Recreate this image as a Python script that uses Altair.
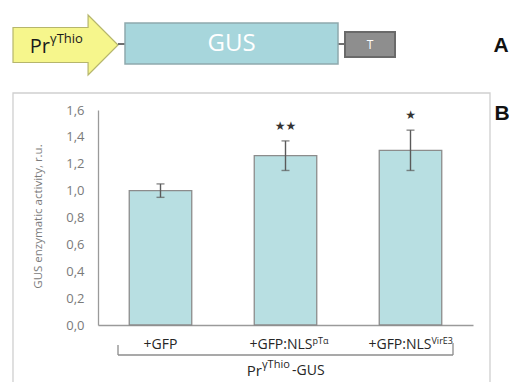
import altair as alt
import pandas as pd

# ---- data ----
cats = ["+GFP", "+GFP:NLS pTα", "+GFP:NLS VirE3"]
means = [1.00, 1.26, 1.30]
errs = [0.05, 0.11, 0.15]
stars = ["", "★★", "★"]
y_ticks = [0.0, 0.2, 0.4, 0.6, 0.8, 1.0, 1.2, 1.4, 1.6]

df = pd.DataFrame({"cat": cats, "mean": means, "err": errs, "star": stars})
df["lo"] = df["mean"] - df["err"]
df["hi"] = df["mean"] + df["err"]

FONT = "Open Sans"
one = pd.DataFrame({"d": [0]})

xscale = alt.Scale(domain=cats, paddingInner=0.5, paddingOuter=0.25)
xaxis = alt.Axis(title=None, labels=False, ticks=False, domainColor="#9a9a9a", domainWidth=1.3)
yscale = alt.Scale(domain=[0, 1.6], nice=False, zero=True)
yaxis = alt.Axis(values=y_ticks, grid=False, ticks=False, domainColor="#9a9a9a",
                 domainWidth=1.3, labelOverlap=False,
                 labelExpr="replace(format(datum.value, '.1f'), '.', ',')",
                 labelColor="#7a7a7a", labelFont=FONT, labelFontSize=13, labelPadding=14,
                 title="GUS enzymatic activity, r.u.", titleFont=FONT, titleFontSize=11.5,
                 titleFontWeight="normal", titleColor="#7a7a7a",
                 titleX=-60, titleY=106, titleAngle=270, titleAlign="center",
                 titleBaseline="middle")


def X():
    return alt.X("cat:N", scale=xscale, axis=xaxis)


def Y(f):
    return alt.Y(f"{f}:Q", scale=yscale, axis=yaxis, title="GUS enzymatic activity, r.u.")


base = alt.Chart(df)

bars = base.mark_bar(fill="#b8dfe2", stroke="#8c8c8c", strokeWidth=1.3).encode(x=X(), y=Y("mean"))
rules = base.mark_rule(color="#5a5a5a", strokeWidth=1.4).encode(x=X(), y=Y("lo"), y2="hi:Q")
caps_lo = base.mark_tick(color="#5a5a5a", size=8, thickness=1.4).encode(x=X(), y=Y("lo"))
caps_hi = base.mark_tick(color="#5a5a5a", size=8, thickness=1.4).encode(x=X(), y=Y("hi"))
star_txt = base.mark_text(fontSize=12, color="#333333", dy=-15, font="DejaVu Sans").encode(
    x=X(), y=Y("hi"), text="star:N")

# x labels with superscripts
lab_y = 235
LS = 14
SS = 9
lab1 = alt.Chart(df).transform_filter(alt.datum.cat == cats[0]).mark_text(
    font=FONT, fontSize=LS, color="#262626").encode(
    x=X(), y=alt.value(lab_y), text=alt.value("+GFP"))
lab2 = alt.Chart(df).transform_filter(alt.datum.cat == cats[1]).mark_text(
    font=FONT, fontSize=LS, color="#262626", align="right", dx=27).encode(
    x=X(), y=alt.value(lab_y), text=alt.value("+GFP:NLS"))
lab2s = alt.Chart(df).transform_filter(alt.datum.cat == cats[1]).mark_text(
    font=FONT, fontSize=SS, color="#262626", align="left", dx=27, dy=-4).encode(
    x=X(), y=alt.value(lab_y), text=alt.value("pTα"))
lab3 = alt.Chart(df).transform_filter(alt.datum.cat == cats[2]).mark_text(
    font=FONT, fontSize=LS, color="#262626", align="right", dx=21).encode(
    x=X(), y=alt.value(lab_y), text=alt.value("+GFP:NLS"))
lab3s = alt.Chart(df).transform_filter(alt.datum.cat == cats[2]).mark_text(
    font=FONT, fontSize=SS, color="#262626", align="left", dx=21, dy=-4).encode(
    x=X(), y=alt.value(lab_y), text=alt.value("VirE3"))

# bracket
d1 = alt.Chart(one)
br_h = d1.mark_rule(color="#8c8c8c", strokeWidth=1.3).encode(
    x=alt.value(20), x2=alt.value(355), y=alt.value(245))
br_l = d1.mark_rule(color="#8c8c8c", strokeWidth=1.3).encode(
    x=alt.value(20), y=alt.value(235), y2=alt.value(245))
br_r = d1.mark_rule(color="#8c8c8c", strokeWidth=1.3).encode(
    x=alt.value(355), y=alt.value(233), y2=alt.value(245))
bt_pr = d1.mark_text(font=FONT, fontSize=15, color="#262626", align="right").encode(
    x=alt.value(164), y=alt.value(261), text=alt.value("Pr"))
bt_sup = d1.mark_text(font=FONT, fontSize=11, color="#262626", align="left").encode(
    x=alt.value(164), y=alt.value(255), text=alt.value("γThio"))
bt_gus = d1.mark_text(font=FONT, fontSize=14, color="#262626", align="left").encode(
    x=alt.value(194), y=alt.value(261), text=alt.value("-GUS"))

# panel border
border = d1.mark_rect(fill=None, stroke="#cfcfcf", strokeWidth=1.3).encode(
    x=alt.value(-85), x2=alt.value(392), y=alt.value(-17), y2=alt.value(320))

# top diagram
arrow_path = "M -1 -0.333 L 0.43 -0.333 L 0.43 -0.571 L 1 0 L 0.43 0.571 L 0.43 0.333 L -1 0.333 Z"
arrow = d1.mark_point(shape=arrow_path, filled=True, fill="#f6f68c", stroke="#b6b66c",
                      strokeWidth=1.2, opacity=1, size=105 * 105).encode(
    x=alt.value(-32.5), y=alt.value(-65))
conn1 = d1.mark_rule(color="#707070", strokeWidth=2).encode(
    x=alt.value(20), x2=alt.value(27), y=alt.value(-66))
conn2 = d1.mark_rule(color="#707070", strokeWidth=2).encode(
    x=alt.value(240), x2=alt.value(247), y=alt.value(-66))
gus_box = d1.mark_rect(fill="#a7d6dc", stroke="#8fa9ad", strokeWidth=1.5).encode(
    x=alt.value(27), x2=alt.value(240), y=alt.value(-87), y2=alt.value(-46))
gus_txt = d1.mark_text(font=FONT, fontSize=24, color="#ffffff").encode(
    x=alt.value(133.5), y=alt.value(-66), text=alt.value("GUS"))
t_box = d1.mark_rect(fill="#8e8e8e", stroke="#6a6a6a", strokeWidth=2).encode(
    x=alt.value(247), x2=alt.value(297), y=alt.value(-78), y2=alt.value(-53))
t_txt = d1.mark_text(font=FONT, fontSize=12, color="#ffffff").encode(
    x=alt.value(272), y=alt.value(-65.5), text=alt.value("T"))
pr_txt = d1.mark_text(font=FONT, fontSize=20, color="#1a1a1a", align="right").encode(
    x=alt.value(-48), y=alt.value(-63), text=alt.value("Pr"))
pr_sup = d1.mark_text(font=FONT, fontSize=13, color="#1a1a1a", align="left").encode(
    x=alt.value(-48), y=alt.value(-71), text=alt.value("γThio"))
a_txt = d1.mark_text(font="Liberation Sans", fontSize=21, color="#111111", fontWeight="bold").encode(
    x=alt.value(403), y=alt.value(-64), text=alt.value("A"))
b_txt = d1.mark_text(font="Liberation Sans", fontSize=21, color="#111111", fontWeight="bold").encode(
    x=alt.value(404), y=alt.value(4), text=alt.value("B"))

chart = alt.layer(
    border, bars, rules, caps_lo, caps_hi, star_txt,
    lab1, lab2, lab2s, lab3, lab3s,
    br_h, br_l, br_r, bt_pr, bt_sup, bt_gus,
    arrow, conn1, conn2, gus_box, gus_txt, t_box, t_txt, pr_txt, pr_sup, a_txt, b_txt,
).properties(
    width=375, height=215, background="white",
    autosize=alt.AutoSizeParams(type="none"),
    padding={"left": 90, "top": 102, "right": 36, "bottom": 57},
).configure_view(stroke=None).configure_axisY(labelOverlap=False)

chart.save("out.html", embed_options={"renderer": "svg", "actions": False})
